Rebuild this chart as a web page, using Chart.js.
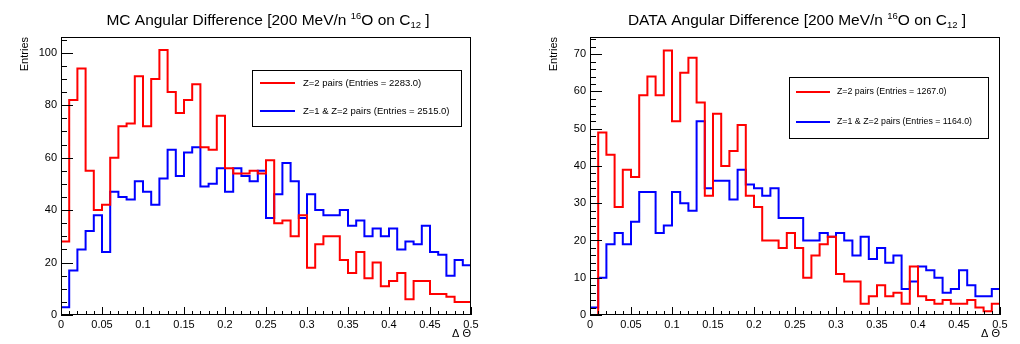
<!DOCTYPE html>
<html>
<head>
<meta charset="utf-8">
<script src="https://cdn.jsdelivr.net/npm/chart.js@4.4.1/dist/chart.umd.min.js"></script>
<style>
  html, body { margin: 0; padding: 0; background: #fff; }
  #wrap { position: relative; width: 1020px; height: 344px; }
  .panel { position: absolute; top: 0; width: 510px; height: 344px; }
</style>
</head>
<body>
<div id="wrap">
  <div class="panel" style="left:0"><canvas id="mc" width="510" height="344"></canvas></div>
  <div class="panel" style="left:510px"><canvas id="data" width="510" height="344"></canvas></div>
</div>
<script>
// ----------------------- DATA -----------------------
const binWidth = 0.01; // 50 bins from 0 to 0.5

const xTicks = [0, 0.05, 0.1, 0.15, 0.2, 0.25, 0.3, 0.35, 0.4, 0.45, 0.5];
const mcYTicks = [0, 20, 40, 60, 80, 100];
const dataYTicks = [0, 10, 20, 30, 40, 50, 60, 70];

// MC, Z=2 pairs
const mcZ2 = [28, 82, 94, 55, 40, 42, 60, 72, 73, 91,
  72, 90, 101, 85, 77, 82, 88, 64, 63, 76,
  56, 54, 54, 55, 54, 59, 35, 36, 30, 38,
  18, 27, 30, 30, 21, 16, 24, 14, 20, 11,
  13, 16, 6, 13, 13, 8, 8, 7, 5, 5];
// MC, Z=1 & Z=2 pairs
const mcZ12 = [3, 17, 25, 32, 38, 24, 47, 45, 44, 51,
  47, 42, 52, 63, 53, 62, 64, 49, 50, 56,
  47, 56, 53, 51, 55, 37, 46, 58, 51, 37,
  46, 40, 38, 38, 40, 34, 36, 30, 33, 30,
  33, 25, 28, 27, 34, 24, 23, 15, 21, 19];
// DATA, Z=2 pairs
const dataZ2 = [0, 49, 43, 29, 39, 37, 59, 64, 59, 71,
  52, 65, 69, 57, 32, 54, 40, 44, 51, 32,
  29, 20, 20, 18, 22, 18, 10, 16, 19, 21,
  11, 9, 9, 3, 5, 8, 5, 6, 3, 13,
  5, 4, 3, 4, 3, 3, 4, 2, 1, 3];
// DATA, Z=1 & Z=2 pairs
const dataZ12 = [2, 10, 19, 22, 19, 25, 33, 33, 22, 24,
  33, 30, 28, 52, 34, 36, 36, 31, 39, 35,
  34, 32, 34, 26, 26, 26, 20, 20, 22, 21,
  22, 20, 16, 21, 15, 18, 14, 16, 7, 9,
  13, 12, 10, 6, 7, 12, 8, 5, 5, 7];

const mcLabels = ["Z=2 pairs (Entries = 2283.0)", "Z=1 & Z=2 pairs (Entries = 2515.0)"];
const dataLabels = ["Z=2 pairs (Entries = 1267.0)", "Z=1 & Z=2 pairs (Entries = 1164.0)"];

const RED = "#ff0000";
const BLUE = "#0000ff";
const FONT = "'Liberation Sans', Arial, Helvetica, sans-serif";

// ----------------------- UTIL -----------------------
// turn bin contents into step points (left edge of every bin)
function histPoints(counts) {
  const pts = [{ x: 0, y: 0 }];
  counts.forEach((c, i) => pts.push({ x: i * binWidth, y: c }));
  const end = counts.length * binWidth;
  pts.push({ x: end, y: counts[counts.length - 1] });
  pts.push({ x: end, y: 0 });
  return pts;
}

// ROOT style frame + inward ticks
const rootFrame = {
  id: "rootFrame",
  afterDatasetsDraw(chart, args, opts) {
    const { ctx, chartArea: { left, right, top, bottom }, scales: { x, y } } = chart;
    ctx.save();
    ctx.strokeStyle = "#000";
    ctx.lineWidth = 1;
    ctx.beginPath();
    for (let i = 0; i <= 50; i++) {
      const px = Math.round(x.getPixelForValue(i * binWidth)) + 0.5;
      const len = i % 5 === 0 ? 8 : 4;
      ctx.moveTo(px, bottom);
      ctx.lineTo(px, bottom - len);
    }
    const n = Math.floor(y.max / opts.yMinor);
    for (let i = 0; i <= n; i++) {
      const v = i * opts.yMinor;
      const py = Math.round(y.getPixelForValue(v)) + 0.5;
      const len = i % opts.perMajor === 0 ? 12 : 6;
      ctx.moveTo(left, py);
      ctx.lineTo(left + len, py);
    }
    ctx.stroke();
    ctx.strokeRect(left + 0.5, top + 0.5, right - left - 1, bottom - top - 1);
    ctx.restore();
  },
};

// legend box inside the pad
const rootLegend = {
  id: "rootLegend",
  afterDraw(chart, args, o) {
    const { ctx } = chart;
    ctx.save();
    ctx.fillStyle = "#fff";
    ctx.fillRect(o.x1, o.y1, o.x2 - o.x1, o.y2 - o.y1);
    ctx.strokeStyle = "#000";
    ctx.lineWidth = 1;
    ctx.strokeRect(o.x1 + 0.5, o.y1 + 0.5, o.x2 - o.x1, o.y2 - o.y1);
    chart.data.datasets.forEach((ds, i) => {
      const yy = o.rows[i];
      ctx.strokeStyle = ds.borderColor;
      ctx.lineWidth = 2;
      ctx.beginPath();
      ctx.moveTo(o.lineX1, yy);
      ctx.lineTo(o.lineX2, yy);
      ctx.stroke();
      ctx.fillStyle = "#000";
      ctx.font = o.fontSize + "px " + FONT;
      ctx.textBaseline = "middle";
      ctx.textAlign = "left";
      ctx.fillText(ds.label, o.textX, yy);
    });
    ctx.restore();
  },
};

// title with super/subscripts
const rootTitle = {
  id: "rootTitle",
  afterDraw(chart, args, o) {
    const { ctx } = chart;
    ctx.save();
    ctx.fillStyle = "#000";
    ctx.textBaseline = "alphabetic";
    ctx.textAlign = "left";
    let w = 0;
    o.parts.forEach((p) => {
      ctx.font = p.size + "px " + FONT;
      p.w = ctx.measureText(p.t).width;
      w += p.w;
    });
    let xx = o.cx - w / 2;
    o.parts.forEach((p) => {
      ctx.font = p.size + "px " + FONT;
      ctx.fillText(p.t, xx, o.base + (p.dy || 0));
      xx += p.w;
    });
    ctx.restore();
  },
};

function titleParts(prefix) {
  return [
    { t: prefix + " Angular Difference [200 MeV/n ", size: 15.5 },
    { t: "16", size: 9.5, dy: -6 },
    { t: "O on C", size: 15.5 },
    { t: "12", size: 9.5, dy: 3 },
    { t: " ]", size: 15.5 },
  ];
}

// ----------------------- BUILD CHARTS -----------------------
function makePanel(id, cfg) {
  return new Chart(document.getElementById(id), {
    type: "line",
    data: {
      datasets: [
        { label: cfg.labels[0], data: histPoints(cfg.red), borderColor: RED },
        { label: cfg.labels[1], data: histPoints(cfg.blue), borderColor: BLUE },
      ].map((d) => Object.assign(d, { stepped: true, borderWidth: 2, pointRadius: 0, fill: false })),
    },
    options: {
      responsive: false,
      animation: false,
      events: [],
      layout: { padding: { left: cfg.padLeft, right: cfg.padRight, top: 37, bottom: 0 } },
      plugins: {
        legend: { display: false },
        tooltip: { enabled: false },
        rootFrame: { yMinor: cfg.yMinor, perMajor: cfg.perMajor },
        rootLegend: cfg.legend,
        rootTitle: { parts: titleParts(cfg.prefix), cx: cfg.titleX, base: 25 },
      },
      scales: {
        x: {
          type: "linear",
          min: 0,
          max: 0.5,
          grid: { display: false, drawTicks: false },
          border: { display: false },
          afterBuildTicks: (s) => { s.ticks = xTicks.map((v) => ({ value: v })); },
          afterFit: (s) => { s.height = 29; },
          ticks: {
            autoSkip: false,
            maxRotation: 0,
            padding: 3,
            color: "#000",
            font: { family: FONT, size: 11 },
            callback: (v) => String(+v.toFixed(2)),
          },
          title: {
            display: true,
            text: "\u0394 \u0398",
            align: "end",
            color: "#000",
            font: { family: FONT, size: 11 },
            padding: { top: 0, bottom: 3 },
          },
        },
        y: {
          min: 0,
          max: cfg.yMax,
          grid: { display: false, drawTicks: false },
          border: { display: false },
          afterBuildTicks: (s) => { s.ticks = cfg.yTicks.map((v) => ({ value: v })); },
          afterFit: (s) => { s.width = 61; },
          ticks: {
            padding: 4,
            color: "#000",
            font: { family: FONT, size: 11 },
          },
          title: {
            display: true,
            text: "Entries",
            align: "end",
            color: "#000",
            font: { family: FONT, size: 11 },
            padding: { top: 18, bottom: 0 },
          },
        },
      },
    },
    plugins: [rootFrame, rootLegend, rootTitle],
  });
}

makePanel("mc", {
  prefix: "MC",
  red: mcZ2,
  blue: mcZ12,
  labels: mcLabels,
  yMax: 106,
  yTicks: mcYTicks,
  yMinor: 5,
  perMajor: 4,
  padLeft: 0,
  padRight: 39,
  titleX: 268,
  legend: { x1: 252, y1: 70, x2: 461, y2: 126, rows: [83, 111], lineX1: 260, lineX2: 295, textX: 303, fontSize: 9.5 },
});

makePanel("data", {
  prefix: "DATA",
  red: dataZ2,
  blue: dataZ12,
  labels: dataLabels,
  yMax: 74.6,
  yTicks: dataYTicks,
  yMinor: 2,
  perMajor: 5,
  padLeft: 19,
  padRight: 20,
  titleX: 287,
  legend: { x1: 279, y1: 77, x2: 478, y2: 138, rows: [92, 122], lineX1: 286, lineX2: 320, textX: 327, fontSize: 8.8 },
});
</script>
</body>
</html>
